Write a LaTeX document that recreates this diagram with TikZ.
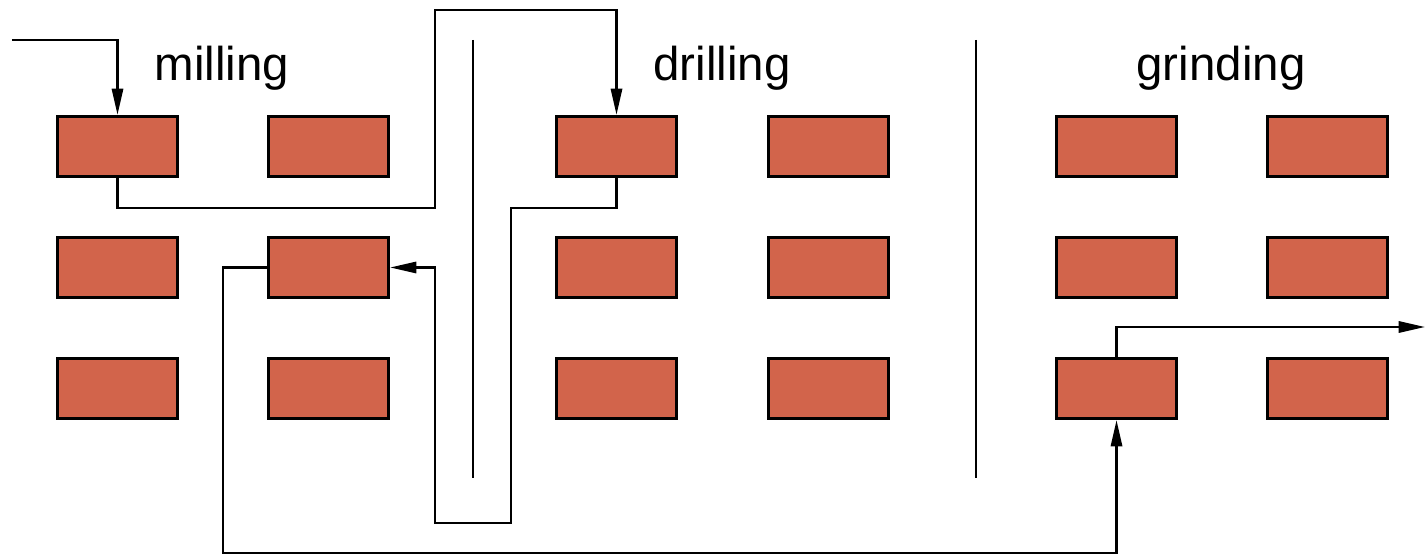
\documentclass[tikz,border=0pt]{standalone}
\usepackage{fontspec}
\setmainfont{Liberation Sans}
\usetikzlibrary{arrows.meta}
\definecolor{machine}{RGB}{210,100,75}

\begin{document}
\begin{tikzpicture}[
    machine/.style={rectangle, draw=black, fill=machine, line width=0.9pt, minimum width=1.2cm, minimum height=0.6cm, inner sep=0pt},
    flow/.style={draw=black, line width=0.7pt, -{Triangle[length=7.5pt, width=3.2pt]}},
    divider/.style={draw=black, line width=0.7pt},
    area/.style={font=\fontsize{13.5}{16}\selectfont}
]
\useasboundingbox (0,0) rectangle (14.27,-5.55);

% Maszyny w dziale frezowania
\node[machine] (m11) at (1.175,-1.465) {};
\node[machine] (m12) at (3.285,-1.465) {};
\node[machine] (m21) at (1.175,-2.675) {};
\node[machine] (m22) at (3.285,-2.675) {};
\node[machine] (m31) at (1.175,-3.885) {};
\node[machine] (m32) at (3.285,-3.885) {};

% Maszyny w dziale wiercenia
\node[machine] (d11) at (6.165,-1.465) {};
\node[machine] (d12) at (8.285,-1.465) {};
\node[machine] (d21) at (6.165,-2.675) {};
\node[machine] (d22) at (8.285,-2.675) {};
\node[machine] (d31) at (6.165,-3.885) {};
\node[machine] (d32) at (8.285,-3.885) {};

% Maszyny w dziale szlifowania
\node[machine] (g11) at (11.165,-1.465) {};
\node[machine] (g12) at (13.275,-1.465) {};
\node[machine] (g21) at (11.165,-2.675) {};
\node[machine] (g22) at (13.275,-2.675) {};
\node[machine] (g31) at (11.165,-3.885) {};
\node[machine] (g32) at (13.275,-3.885) {};

% Nazwy działów
\node[area] (lmill) at (2.22,-0.68) {milling};
\node[area] (ldrill) at (7.22,-0.68) {drilling};
\node[area] (lgrind) at (12.21,-0.68) {grinding};

% Ścianki między działami
\coordinate (w1top) at (4.73,-0.40);
\coordinate (w1bot) at (4.73,-4.78);
\coordinate (w2top) at (9.76,-0.40);
\coordinate (w2bot) at (9.76,-4.78);
\draw[divider] (w1top) -- (w1bot);
\draw[divider] (w2top) -- (w2bot);

% Punkty wejścia i wyjścia
\coordinate (in) at (0.12,-0.40);
\coordinate (out) at (14.25,-3.27);

% Droga detalu przez halę
\draw[flow] (in) -| (m11.north);
\draw[flow] (m11.south) -- ++(0,-0.30) -| (4.35,-0.10) -| (d11.north);
\draw[flow] (d11.south) -- ++(0,-0.30) -| (5.11,-5.23) -- (4.35,-5.23) |- (m22.east);
\draw[flow] (m22.west) -| (2.23,-5.53) -| (g31.south);
\draw[flow] (g31.north) |- (out);

\end{tikzpicture}
\end{document}
